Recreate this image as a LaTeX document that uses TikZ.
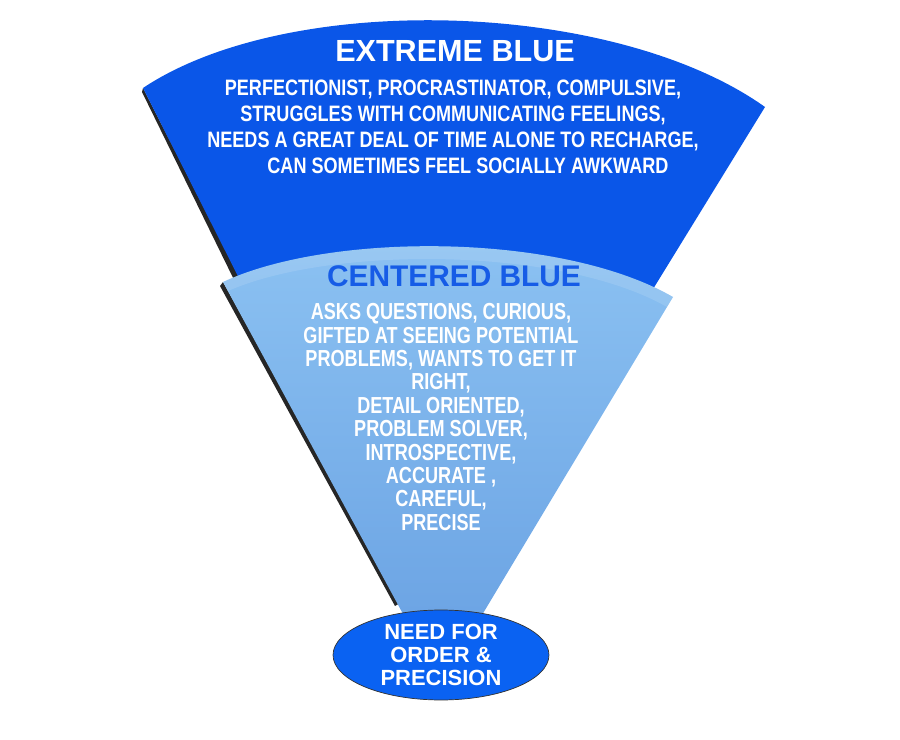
\documentclass[tikz,border=0pt]{standalone}
\usepackage{fontspec}
\setmainfont{Liberation Sans}
\newfontfamily\narrowfont[FakeStretch=0.81]{Liberation Sans}
\newfontfamily\narrowerfont[FakeStretch=0.78]{Liberation Sans}
\usepackage{tikz}
\usetikzlibrary{shapes.geometric, positioning}
\definecolor{extremeBlue}{RGB}{10, 86, 232}
\definecolor{centeredTop}{RGB}{140, 194, 242}
\definecolor{centeredBottom}{RGB}{108, 164, 228}
\definecolor{centeredText}{RGB}{22, 92, 230}
\definecolor{needBlue}{RGB}{10, 98, 242}

\begin{document}
\begin{tikzpicture}[x=0.02cm, y=-0.02cm]
    \useasboundingbox (0,0) rectangle (900,740);

    % Extreme blue wedge
    \fill[black!85] (143,88) -- (246,290) -- (240,292) -- (142,92) -- cycle;
    \fill[extremeBlue] (143,88) .. controls (290,-10) and (615,0) .. (765,107)
        -- (511,520) -- (361,520) -- cycle;

    % Centered blue wedge
    \fill[black!85] (223,282) -- (400,603) -- (395,606) -- (220,286) -- cycle;
    \shade[top color=centeredTop, bottom color=centeredBottom]
        (223,282) .. controls (330,232) and (560,232) .. (673,297)
        -- (476,625) -- (409,625) -- cycle;
    \fill[white, opacity=0.12]
        (223,282) .. controls (330,232) and (560,232) .. (673,297)
        -- (667,307) .. controls (560,246) and (330,246) .. (228,291) -- cycle;

    % Texts
    \node[text=white, font=\bfseries\fontsize{17.4}{20}\selectfont]
        (extremeTitle) at (455,51) {EXTREME BLUE};
    \node[text=white, align=center, font=\narrowfont\bfseries\fontsize{12.7}{14.7}\selectfont]
        (extremeTraits) at (453,127) {PERFECTIONIST, PROCRASTINATOR, COMPULSIVE,\\
        STRUGGLES WITH COMMUNICATING FEELINGS,\\
        NEEDS A GREAT DEAL OF TIME ALONE TO RECHARGE,\\
        \hspace*{17pt}CAN SOMETIMES FEEL SOCIALLY AWKWARD};
    \node[text=centeredText, font=\bfseries\fontsize{17}{20}\selectfont]
        (centeredTitle) at (454,276) {CENTERED BLUE};
    \node[text=white, align=center, font=\narrowerfont\bfseries\fontsize{13.2}{13.3}\selectfont]
        (centeredTraits) at (441,417) {ASKS QUESTIONS, CURIOUS,\\
        GIFTED AT SEEING POTENTIAL\\
        PROBLEMS, WANTS TO GET IT\\
        RIGHT,\\
        DETAIL ORIENTED,\\
        PROBLEM SOLVER,\\
        INTROSPECTIVE,\\
        ACCURATE ,\\
        CAREFUL,\\
        PRECISE};

    % Need ellipse
    \node[ellipse, draw=black!80, fill=needBlue, minimum width=4.32cm, minimum height=1.8cm,
        inner sep=0pt, text=white, align=center, font=\bfseries\fontsize{12.5}{13}\selectfont]
        (need) at (441,655) {NEED FOR\\ ORDER \&\\ PRECISION};
\end{tikzpicture}
\end{document}
